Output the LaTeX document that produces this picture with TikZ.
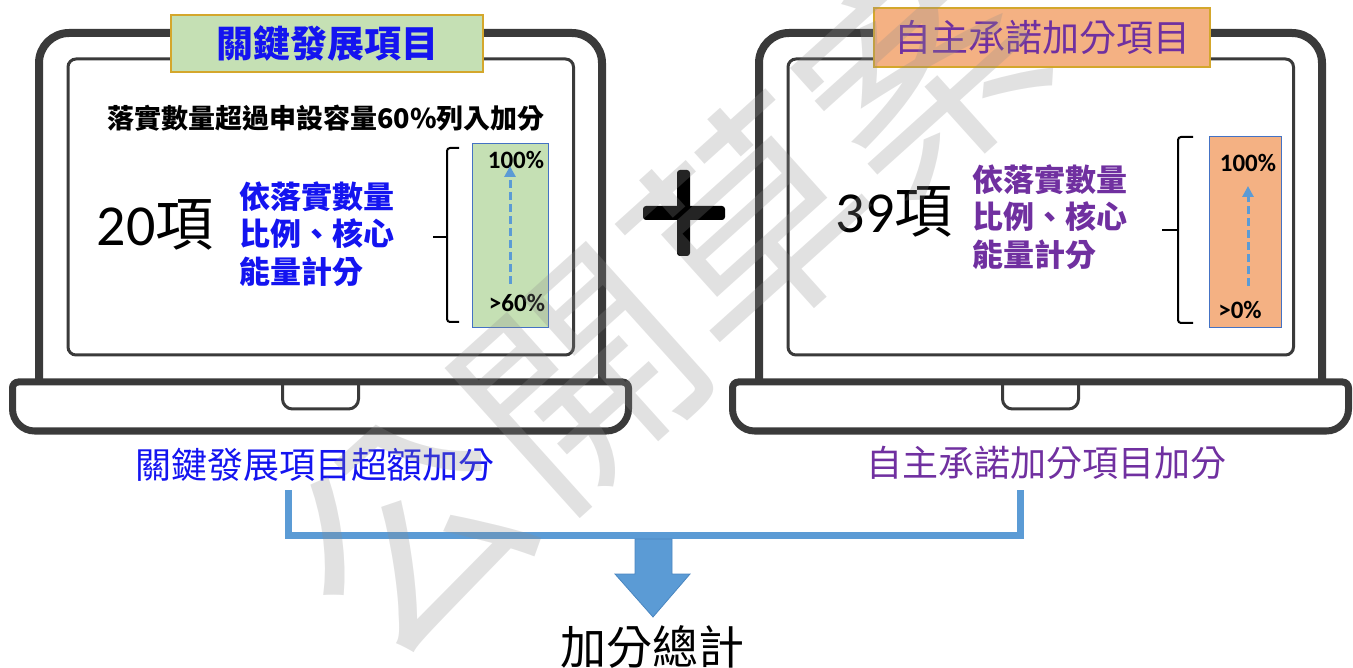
\documentclass[tikz,border=0pt]{standalone}
\usepackage{fontspec}
\setmainfont{Carlito}
\newfontfamily\cjk{Noto Sans CJK TC}
\usetikzlibrary{arrows.meta}
\definecolor{framec}{HTML}{3A3A3A}
\definecolor{gfill}{HTML}{C5E0B4}
\definecolor{ofill}{HTML}{F4B183}
\definecolor{gold}{HTML}{D4A72C}
\definecolor{barblue}{HTML}{4472C4}
\definecolor{ltblue}{HTML}{5B9BD5}
\definecolor{arrowedge}{HTML}{4A86C0}
\definecolor{txtblue}{HTML}{1414F0}
\definecolor{txtpurple}{HTML}{7030A0}
\definecolor{wmgray}{HTML}{8C8C8C}
\tikzset{
  laptop/.pic={
    \draw[framec, line width=8pt, rounded corners=30pt] (-281.5,382) -- (-281.5,33) -- (281.5,33) -- (281.5,382);
    \draw[framec, line width=3pt, rounded corners=8pt] (-252.5,59) rectangle (253,355);
    \draw[framec, line width=7pt] (0,382) -- (302,382) .. controls (305.3,382) and (308,384.7) .. (308,388) -- (308,409) .. controls (308,421) and (298,431) .. (286,431) -- (-286,431) .. controls (-298,431) and (-308,421) .. (-308,409) -- (-308,388) .. controls (-308,384.7) and (-305.3,382) .. (-302,382) -- cycle;
    \draw[framec, line width=3pt] (-38,382) -- (-38,399) .. controls (-38,404.5) and (-33.5,409) .. (-28,409) -- (28,409) .. controls (33.5,409) and (38,404.5) .. (38,399) -- (38,382);
  },
  titlebox/.style={draw=gold, line width=1.5pt, inner sep=0pt, font=\cjk\fontsize{37}{40}\selectfont},
  bar/.style={draw=barblue, line width=1pt, inner sep=0pt},
  pct/.style={inner sep=0pt, font=\bfseries\fontsize{25}{27}\selectfont},
  desc/.style={inner sep=0pt, anchor=west, align=left, font=\cjk\bfseries\fontsize{31}{37.5}\selectfont},
  bignum/.style={inner sep=0pt, font=\fontsize{58}{60}\selectfont},
  bracec/.style={line width=2pt, rounded corners=3pt},
  dasharrow/.style={ltblue, line width=3pt, dash pattern=on 8pt off 4pt, -{Triangle[width=11pt,length=11pt]}},
  bottomlabel/.style={inner sep=0pt, font=\cjk\fontsize{36}{38}\selectfont},
  joinline/.style={ltblue, line width=7pt},
}
\begin{document}
\begin{tikzpicture}[x=1pt,y=-1pt]
\useasboundingbox (0,0) rectangle (1353,668);
% laptops
\pic at (320.5,0) {laptop};
\pic at (1040.5,0) {laptop};
% title boxes
\node[titlebox, fill=gfill, minimum width=312pt, minimum height=57pt, text=txtblue, font=\cjk\bfseries\fontsize{37}{40}\selectfont] (t1) at (327,43.5) {關鍵發展項目};
\node[titlebox, fill=ofill, minimum width=336pt, minimum height=59pt, text=txtpurple] (t2) at (1042,37.5) {自主承諾加分項目};
% left screen
\node[inner sep=0pt, font=\cjk\bfseries\fontsize{27}{30}\selectfont] (sub1) at (326,118) {落實數量超過申設容量60\%列入加分};
\node[bignum] (n1) at (155,225) {20{\cjk 項}};
\node[desc, text=txtblue] (d1) at (239,234) {依落實數量\\比例、核心\\能量計分};
\node[bar, fill=gfill, minimum width=76pt, minimum height=184pt] (bar1) at (510,236) {};
\node[pct] (p1a) at (516,160) {100\%};
\node[pct] (p1b) at (517,303) {>60\%};
\draw[bracec] (459,148) -- (447,148) -- (447,322) -- (459,322);
\draw[bracec] (433,237) -- (447,237);
\coordinate (a1s) at (510,284);
\coordinate (a1e) at (510,166);
\draw[dasharrow] (a1s) -- (a1e);
% right screen
\node[bignum] (n2) at (894,212) {39{\cjk 項}};
\node[desc, text=txtpurple] (d2) at (972,217) {依落實數量\\比例、核心\\能量計分};
\node[bar, fill=ofill, minimum width=72pt, minimum height=191pt] (bar2) at (1245,232.5) {};
\node[pct] (p2a) at (1248,163) {100\%};
\node[pct] (p2b) at (1240,310) {>0\%};
\draw[bracec] (1193,137) -- (1178,137) -- (1178,323) -- (1193,323);
\draw[bracec] (1162,230) -- (1178,230);
\coordinate (a2s) at (1248,286);
\coordinate (a2e) at (1248,186);
\draw[dasharrow] (a2s) -- (a2e);
% plus sign
\fill[rounded corners=3pt] (643,206) rectangle (725,220);
\fill[rounded corners=3pt] (677,170) rectangle (690,256);
% bottom labels
\node[bottomlabel, text=txtblue] (l1) at (315,465) {關鍵發展項目超額加分};
\node[bottomlabel, text=txtpurple] (l2) at (1046,463) {自主承諾加分項目加分};
\coordinate (j1) at (288,490);
\coordinate (j2) at (1020,490);
\draw[joinline] (j1) |- (j2 |- 0,535.5) -- (j2);
% block arrow
\filldraw[fill=ltblue, draw=arrowedge, line width=0.8pt] (635,539) -- (672,539) -- (672,574) -- (690,574) -- (653,617) -- (615,574) -- (635,574) -- cycle;
\node[inner sep=0pt, font=\cjk\fontsize{46}{48}\selectfont] (total) at (652,647) {加分總計};
% watermark
\node[inner sep=0pt, text=wmgray, opacity=0.26, rotate=42, font=\cjk\fontsize{230}{230}\selectfont] (wm) at (665,300) {公開草案};
\end{tikzpicture}
\end{document}
